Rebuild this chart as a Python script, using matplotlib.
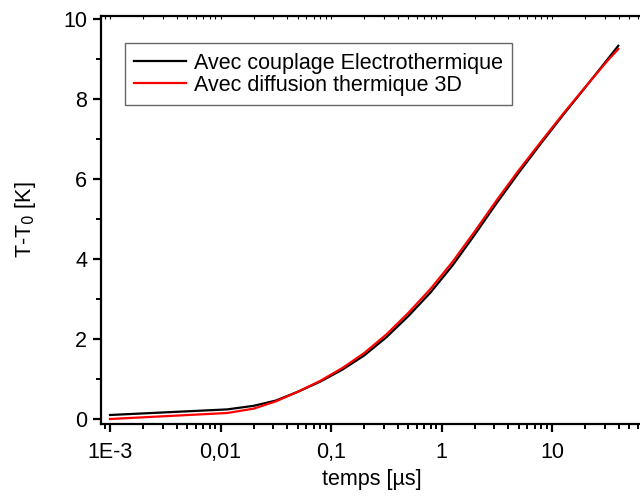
import numpy as np
import matplotlib
matplotlib.use('Agg')
import matplotlib.pyplot as plt
from matplotlib.ticker import FixedLocator, LogLocator, NullFormatter, MultipleLocator

plt.rcParams['font.family'] = ['Liberation Sans', 'DejaVu Sans']

# time axis [us]
temps = [0.001, 0.0115, 0.02, 0.0316, 0.05, 0.0794, 0.126, 0.2, 0.316, 0.5,
         0.794, 1.26, 2.0, 3.16, 5.01, 7.94, 12.6, 20.0, 31.6, 39.8]
# T - T0 [K]
electrothermique = [0.10, 0.24, 0.33, 0.46, 0.68, 0.93, 1.23, 1.59, 2.04, 2.57,
                    3.16, 3.84, 4.61, 5.40, 6.16, 6.89, 7.60, 8.29, 8.98, 9.33]
diffusion_3d = [0.00, 0.15, 0.26, 0.44, 0.68, 0.95, 1.27, 1.65, 2.11, 2.65,
                3.25, 3.93, 4.69, 5.47, 6.22, 6.93, 7.63, 8.30, 8.95, 9.25]

xticks = [1e-3, 1e-2, 1e-1, 1, 10]
xticklabels = ['1E-3', '0,01', '0,1', '1', '10']

fs = 15.5

fig = plt.figure(figsize=(6.4, 5.0), dpi=100)
ax = fig.add_axes([101 / 640, 76 / 500, 541 / 640, 408 / 500])

ax.plot(temps, electrothermique, color='black', lw=1.6,
        label='Avec couplage Electrothermique')
ax.plot(temps, diffusion_3d, color='red', lw=1.6,
        label='Avec diffusion thermique 3D')

ax.set_xscale('log')
ax.set_xlim(10 ** (-3 - 9 / 110.5), 10 ** (1 + 90 / 110.5))
ax.set_ylim(-0.125, 10.075)

ax.xaxis.set_major_locator(FixedLocator(xticks))
ax.set_xticklabels(xticklabels)
ax.xaxis.set_minor_locator(LogLocator(base=10, subs=np.arange(2, 10)))
ax.xaxis.set_minor_formatter(NullFormatter())
ax.yaxis.set_major_locator(MultipleLocator(2))
ax.yaxis.set_minor_locator(MultipleLocator(1))

for side in ['left', 'bottom', 'top']:
    ax.spines[side].set_linewidth(1.6)
ax.spines['right'].set_visible(False)

ax.tick_params(axis='both', which='major', direction='out', length=6,
               width=1.6, labelsize=fs, pad=4)
ax.tick_params(axis='both', which='minor', direction='out', length=3.5,
               width=1.4)
ax.tick_params(axis='x', which='major', pad=7)
# faint inward ticks along the top frame
ax.tick_params(axis='x', which='both', top=True, labeltop=False)
for t in ax.xaxis.get_major_ticks() + ax.xaxis.get_minor_ticks():
    t.tick2line.set_marker(3)
    t.tick2line.set_markersize(2)
    t.tick2line.set_markeredgewidth(0.8)

ax.set_xlabel('temps [µs]', fontsize=fs, labelpad=4)
ax.set_ylabel('T-T$_0$ [K]', fontsize=fs, labelpad=18)

leg = ax.legend(loc='upper left', bbox_to_anchor=(0.044, 0.934),
                borderaxespad=0, fontsize=fs, fancybox=False,
                edgecolor='#666666', handlelength=2.4, handletextpad=0.35,
                labelspacing=0.05, borderpad=0.45, framealpha=1)
leg.get_frame().set_linewidth(1.0)

fig.savefig('out.png', dpi=100)
